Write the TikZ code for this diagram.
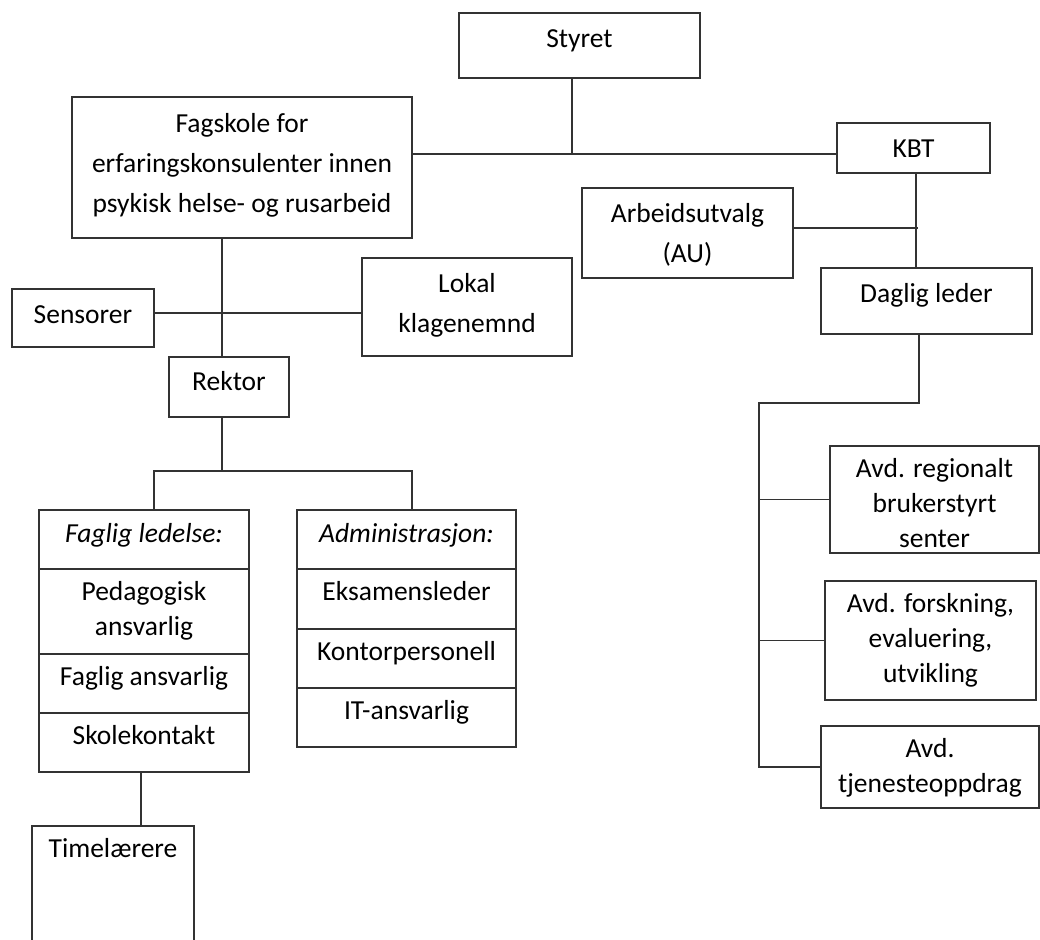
\documentclass[tikz,border=0pt]{standalone}
\usepackage{fontspec}
\setmainfont{Carlito}
\usetikzlibrary{positioning}
\definecolor{linegray}{rgb}{0.2,0.2,0.2}

% top-aligned text inside a box of fixed size
\newcommand{\boxtext}[4][31.5pt]{\parbox[c][#3][t]{#2}{\centering\rule{0pt}{#1}#4\par}}

\begin{document}
\begin{tikzpicture}[
  x=1pt, y=-1pt,
  every node/.style={
    inner sep=0pt,
    outer sep=0pt
  },
  box/.style={
    draw=linegray,
    line width=1.2pt,
    font=\fontsize{27.5}{40}\selectfont
  },
  tight/.style={
    font=\fontsize{27.5}{35}\selectfont
  },
  link/.style={
    draw=linegray,
    line width=1.2pt
  }
]

\clip (0,0) rectangle (1040,939);

% top level
\node[box] (styret) at (579.5,45.5) {\boxtext[34.5pt]{241pt}{65pt}{Styret}};
\node[box] (fagskole) at (242,167.5) {\boxtext[35pt]{340pt}{141pt}{Fagskole for\\erfaringskonsulenter innen\\psykisk helse- og rusarbeid}};
\node[box] (kbt) at (913.5,148) {\boxtext[34pt]{153pt}{50pt}{KBT}};
\node[box] (au) at (687.5,233) {\boxtext[34.5pt]{211pt}{90pt}{Arbeidsutvalg\\(AU)}};
\node[box] (daglig) at (926.5,301) {\boxtext[34.5pt]{211pt}{66pt}{Daglig leder}};

% school side
\node[box] (sensorer) at (83,318) {\boxtext[34pt]{142pt}{58pt}{Sensorer}};
\node[box] (lokal) at (467,307) {\boxtext[34pt]{210pt}{98pt}{Lokal\\klagenemnd}};
\node[box] (rektor) at (229,387) {\boxtext[33pt]{120pt}{60pt}{Rektor}};

\node[box] (faglig-1) at (144,539.5) {\boxtext[32pt]{210pt}{59pt}{\textit{Faglig ledelse:}}};
\node[box, tight] (faglig-2) [below=0pt of faglig-1] {\boxtext{210pt}{85pt}{Pedagogisk\\ansvarlig}};
\node[box] (faglig-3) [below=0pt of faglig-2] {\boxtext{210pt}{59pt}{Faglig ansvarlig}};
\node[box] (faglig-4) [below=0pt of faglig-3] {\boxtext{210pt}{59pt}{Skolekontakt}};

\node[box] (admin-1) at (406.5,539.5) {\boxtext[32pt]{219pt}{59pt}{\textit{Administrasjon:}}};
\node[box] (admin-2) [below=0pt of admin-1] {\boxtext{219pt}{60pt}{Eksamensleder}};
\node[box] (admin-3) [below=0pt of admin-2] {\boxtext{219pt}{59pt}{Kontorpersonell}};
\node[box] (admin-4) [below=0pt of admin-3] {\boxtext{219pt}{59pt}{IT-ansvarlig}};

\node[box] (timel) at (113,888) {\boxtext{162pt}{124pt}{Timelærere}};

% departments
\node[box, tight] (regional) at (934.5,499.5) {\boxtext{209pt}{107pt}{Avd. regionalt\\brukerstyrt\\senter}};
\node[box, tight] (forskning) at (930.5,640.5) {\boxtext{211pt}{119pt}{Avd. forskning,\\evaluering,\\utvikling}};
\node[box, tight] (tjeneste) at (930,767) {\boxtext{218pt}{82pt}{Avd.\\tjenesteoppdrag}};

% bus points
\coordinate (top-bus) at (572,154);
\coordinate (kbt-bus) at (916,228);
\coordinate (dag-bus) at (759,403);
\coordinate (fag-bus) at (222,313);
\coordinate (rek-bus) at (222,471);
\coordinate (rek-left) at (154,471);
\coordinate (rek-right) at (412,471);

% connectors
\draw[link] (styret.south -| top-bus) -- (top-bus);
\draw[link] (fagskole.east |- top-bus) -- (kbt.west |- top-bus);
\draw[link] (kbt.south -| kbt-bus) -- (daglig.north -| kbt-bus);
\draw[link] (au.east |- kbt-bus) -- ([xshift=2pt]kbt-bus);

\draw[link] ([xshift=-7.5pt]daglig.south) |- (dag-bus) -- (dag-bus |- tjeneste.west) -- (tjeneste.west);
\draw[link] (dag-bus |- regional.west) -- (regional.west);
\draw[link] (dag-bus |- forskning.west) -- (forskning.west);

\draw[link] (fagskole.south -| fag-bus) -- (rektor.north -| fag-bus);
\draw[link] (sensorer.east |- fag-bus) -- (lokal.west |- fag-bus);
\draw[link] (rektor.south -| rek-bus) -- (rek-bus);
\draw[link] (faglig-1.north -| rek-left) -- (rek-left) -- (rek-right) -- (admin-1.north -| rek-right);
\draw[link] ([xshift=-3pt]faglig-4.south) -- ([xshift=-3pt]faglig-4.south |- timel.north);

\end{tikzpicture}
\end{document}
